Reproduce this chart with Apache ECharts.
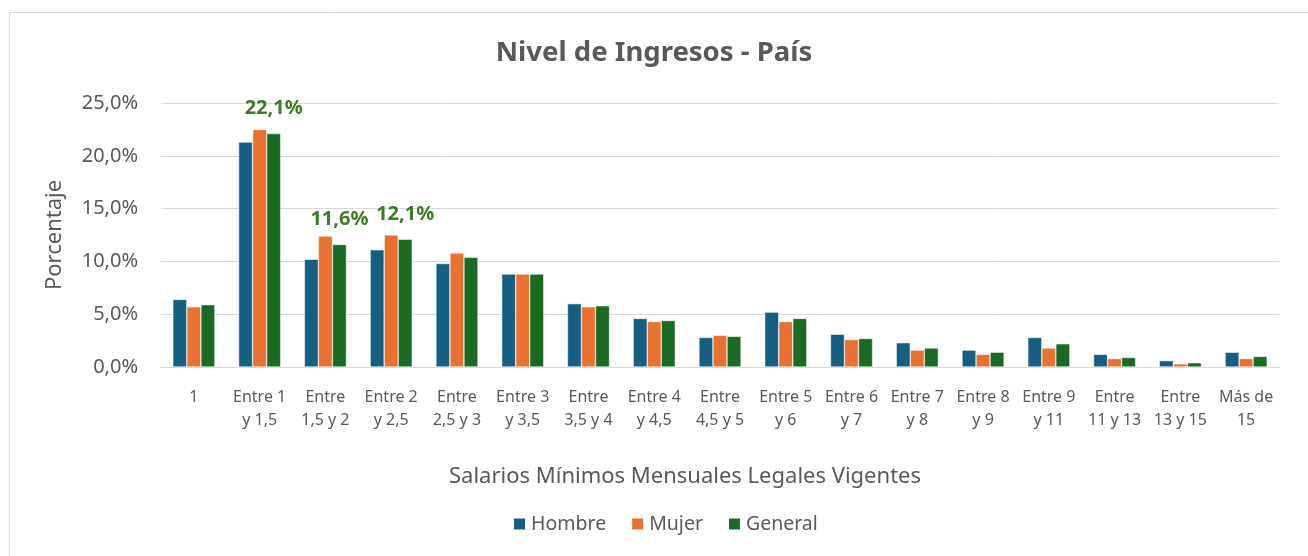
<!DOCTYPE html>
<html>
<head>
<meta charset="utf-8">
<script src="https://cdn.jsdelivr.net/npm/echarts@6/dist/echarts.min.js"></script>
<style>
html,body{margin:0;padding:0;background:#fff;}
#chart{width:1308px;height:556px;}
</style>
</head>
<body>
<div id="chart"></div>
<script>
const categories = ["1","Entre 1\ny 1,5","Entre\n1,5 y 2","Entre 2\ny 2,5","Entre\n2,5 y 3","Entre 3\ny 3,5","Entre\n3,5 y 4","Entre 4\ny 4,5","Entre\n4,5 y 5","Entre 5\ny 6","Entre 6\ny 7","Entre 7\ny 8","Entre 8\ny 9","Entre 9\ny 11","Entre\n11 y 13","Entre\n13 y 15","Más de\n15"];
const hombre  = [6.4, 21.3, 10.2, 11.1, 9.8, 8.8, 6.0, 4.6, 2.8, 5.2, 3.1, 2.3, 1.6, 2.8, 1.2, 0.6, 1.4];
const mujer   = [5.7, 22.5, 12.4, 12.5, 10.8, 8.8, 5.7, 4.3, 3.0, 4.3, 2.6, 1.6, 1.2, 1.8, 0.8, 0.3, 0.8];
const general = [5.9, 22.1, 11.6, 12.1, 10.4, 8.8, 5.8, 4.4, 2.9, 4.6, 2.7, 1.8, 1.4, 2.2, 0.9, 0.4, 1.0];
const labeledIdx = [1, 2, 3];
const yTicks = {min: 0, max: 25, interval: 5};

const fmt = v => v.toFixed(1).replace('.', ',') + '%';
const font = '"Noto Sans", "Open Sans", sans-serif';
const txt = '#595959';

const chart = echarts.init(document.getElementById('chart'));
chart.setOption({
  animation: false,
  textStyle: {fontFamily: font},
  title: {
    text: 'Nivel de Ingresos - País',
    left: 'center', top: 34,
    textStyle: {fontSize: 27.5, fontWeight: 'bold', color: txt, fontFamily: font}
  },
  graphic: [{
    type: 'rect', left: 7, top: 10,
    shape: {width: 1300, height: 560},
    style: {fill: 'none', stroke: '#d9d9d9', lineWidth: 1},
    silent: true, z: -1
  }],
  legend: {
    bottom: 17, left: 507,
    itemWidth: 13, itemHeight: 13, itemGap: 24,
    icon: 'rect',
    textStyle: {fontSize: 19.5, color: txt, fontFamily: font},
    data: ['Hombre', 'Mujer', 'General']
  },
  grid: {left: 161, right: 29, top: 103, bottom: 189},
  xAxis: {
    type: 'category',
    data: categories,
    name: 'Salarios Mínimos Mensuales Legales Vigentes',
    nameLocation: 'middle', nameGap: 99,
    nameTextStyle: {fontSize: 22, color: txt, fontFamily: font, padding: [0, 70, 0, 0]},
    axisLine: {lineStyle: {color: '#d9d9d9', width: 1}},
    axisTick: {show: false},
    axisLabel: {fontSize: 16, color: txt, lineHeight: 23, margin: 19, interval: 0, fontFamily: font}
  },
  yAxis: {
    type: 'value',
    min: yTicks.min, max: yTicks.max, interval: yTicks.interval,
    name: 'Porcentaje',
    nameLocation: 'middle', nameGap: 95, nameRotate: 90,
    nameTextStyle: {fontSize: 22, color: txt, fontFamily: font},
    axisLine: {show: false}, axisTick: {show: false},
    splitLine: {lineStyle: {color: '#d9d9d9', width: 1}},
    axisLabel: {fontSize: 20, color: txt, margin: 23, formatter: fmt, fontFamily: font}
  },
  series: [
    {name: 'Hombre', type: 'bar', data: hombre, barGap: '0%', barCategoryGap: '36%',
     itemStyle: {color: '#156082', borderColor: '#ffffff', borderWidth: 0.5}},
    {name: 'Mujer', type: 'bar', data: mujer, barGap: '0%', barCategoryGap: '36%',
     itemStyle: {color: '#E97132', borderColor: '#ffffff', borderWidth: 0.5}},
    {name: 'General', type: 'bar', barGap: '0%', barCategoryGap: '36%',
     itemStyle: {color: '#196B24', borderColor: '#ffffff', borderWidth: 0.5},
     label: {show: false, position: 'top', distance: 15, formatter: p => fmt(p.value),
             fontSize: 20, fontWeight: 'bold', color: '#3B7D23', fontFamily: font},
     data: general.map((v, i) => labeledIdx.includes(i) ? {value: v, label: {show: true}} : v)}
  ]
});
</script>
</body>
</html>
